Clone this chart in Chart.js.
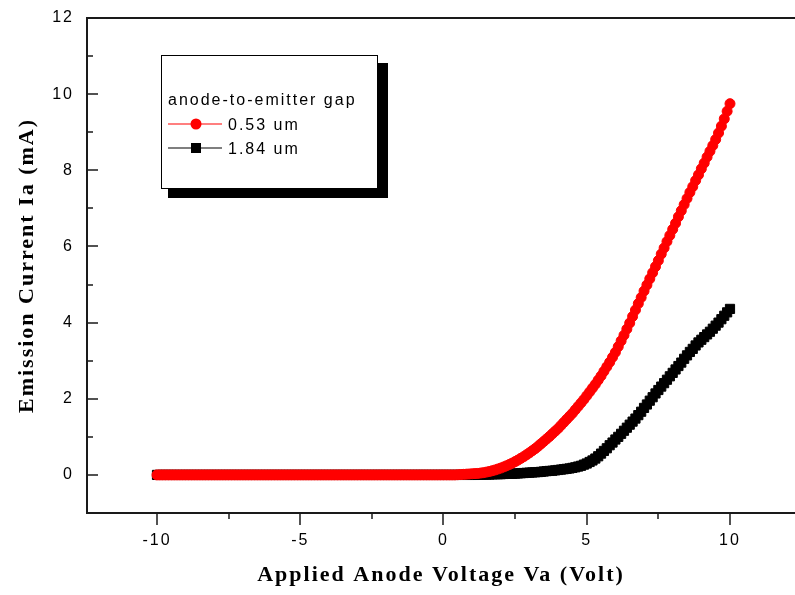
<!DOCTYPE html>
<html><head><meta charset="utf-8">
<script src="https://cdn.jsdelivr.net/npm/chart.js@4/dist/chart.umd.min.js"></script>
<style>html,body{margin:0;padding:0;background:#fff;overflow:hidden}#wrap{width:795px;height:595px;position:relative}</style>
</head><body><div id="wrap"><canvas id="c" width="795" height="595"></canvas></div>
<script>
const voltages = [
  -10,-9.9,-9.8,-9.7,-9.6,-9.5,-9.4,-9.3,-9.2,-9.1,
  -9,-8.9,-8.8,-8.7,-8.6,-8.5,-8.4,-8.3,-8.2,-8.1,
  -8,-7.9,-7.8,-7.7,-7.6,-7.5,-7.4,-7.3,-7.2,-7.1,
  -7,-6.9,-6.8,-6.7,-6.6,-6.5,-6.4,-6.3,-6.2,-6.1,
  -6,-5.9,-5.8,-5.7,-5.6,-5.5,-5.4,-5.3,-5.2,-5.1,
  -5,-4.9,-4.8,-4.7,-4.6,-4.5,-4.4,-4.3,-4.2,-4.1,
  -4,-3.9,-3.8,-3.7,-3.6,-3.5,-3.4,-3.3,-3.2,-3.1,
  -3,-2.9,-2.8,-2.7,-2.6,-2.5,-2.4,-2.3,-2.2,-2.1,
  -2,-1.9,-1.8,-1.7,-1.6,-1.5,-1.4,-1.3,-1.2,-1.1,
  -1,-0.9,-0.8,-0.7,-0.6,-0.5,-0.4,-0.3,-0.2,-0.1,
  0,0.1,0.2,0.3,0.4,0.5,0.6,0.7,0.8,0.9,
  1,1.1,1.2,1.3,1.4,1.5,1.6,1.7,1.8,1.9,
  2,2.1,2.2,2.3,2.4,2.5,2.6,2.7,2.8,2.9,
  3,3.1,3.2,3.3,3.4,3.5,3.6,3.7,3.8,3.9,
  4,4.1,4.2,4.3,4.4,4.5,4.6,4.7,4.8,4.9,
  5,5.1,5.2,5.3,5.4,5.5,5.6,5.7,5.8,5.9,
  6,6.1,6.2,6.3,6.4,6.5,6.6,6.7,6.8,6.9,
  7,7.1,7.2,7.3,7.4,7.5,7.6,7.7,7.8,7.9,
  8,8.1,8.2,8.3,8.4,8.5,8.6,8.7,8.8,8.9,
  9,9.1,9.2,9.3,9.4,9.5,9.6,9.7,9.8,9.9,
  10];
const current053 = [
  0,0,0,0,0,0,0,0,0,0, 0,0,0,0,0,0,0,0,0,0,
  0,0,0,0,0,0,0,0,0,0, 0,0,0,0,0,0,0,0,0,0,
  0,0,0,0,0,0,0,0,0,0, 0,0,0,0,0,0,0,0,0,0,
  0,0,0,0,0,0,0,0,0,0, 0,0,0,0,0,0,0,0,0,0,
  0,0,0,0,0,0,0,0,0,0, 0,0,0,0,0,0,0,0,0,0,
  0,0,0,0,0,0.005,0.01,0.015,0.02,0.025,
  0.03,0.035,0.04,0.05,0.06,0.075,0.09,0.11,0.13,0.155,
  0.18,0.21,0.24,0.275,0.31,0.35,0.39,0.435,0.48,0.53,
  0.58,0.635,0.69,0.75,0.815,0.88,0.945,1.01,1.08,1.15,
  1.22,1.3,1.38,1.46,1.54,1.62,1.71,1.8,1.89,1.98,
  2.08,2.18,2.28,2.38,2.49,2.6,2.72,2.84,2.96,3.09,
  3.22,3.37,3.52,3.67,3.83,3.99,4.16,4.33,4.5,4.66,
  4.83,4.99,5.15,5.31,5.47,5.63,5.8,5.96,6.13,6.29,
  6.45,6.61,6.78,6.94,7.1,7.26,7.42,7.57,7.73,7.88,
  8.04,8.19,8.35,8.5,8.65,8.81,8.98,9.16,9.35,9.55,
  9.75];
const current184 = [
  0,0,0,0,0,0,0,0,0,0, 0,0,0,0,0,0,0,0,0,0,
  0,0,0,0,0,0,0,0,0,0, 0,0,0,0,0,0,0,0,0,0,
  0,0,0,0,0,0,0,0,0,0, 0,0,0,0,0,0,0,0,0,0,
  0,0,0,0,0,0,0,0,0,0, 0,0,0,0,0,0,0,0,0,0,
  0,0,0,0,0,0,0,0,0,0, 0,0,0,0,0,0,0,0,0,0,
  0,0,0,0,0,0,0,0,0,0,
  0,0,0.005,0.005,0.01,0.01,0.01,0.015,0.02,0.02,
  0.02,0.025,0.03,0.03,0.03,0.035,0.04,0.045,0.05,0.055,
  0.06,0.065,0.07,0.075,0.08,0.09,0.1,0.105,0.11,0.12,
  0.13,0.14,0.15,0.16,0.17,0.185,0.2,0.22,0.24,0.27,
  0.3,0.34,0.38,0.43,0.49,0.56,0.63,0.7,0.78,0.85,
  0.93,1,1.08,1.16,1.24,1.32,1.4,1.48,1.57,1.66,
  1.76,1.85,1.95,2.04,2.14,2.23,2.32,2.41,2.5,2.59,
  2.68,2.77,2.86,2.95,3.05,3.14,3.23,3.31,3.4,3.48,
  3.55,3.62,3.69,3.76,3.84,3.92,4,4.09,4.18,4.27,
  4.36];
const seriesLabels = ['0.53 um', '1.84 um'];
const legendTitle = 'anode-to-emitter gap';
const xTitle = 'Applied Anode Voltage Va (Volt)';
const yTitle = 'Emission Current Ia (mA)';
const xMajorTicks = [-10, -5, 0, 5, 10];
const xMinorTicks = [-7.5, -2.5, 2.5, 7.5];
const yMajorTicks = [0, 2, 4, 6, 8, 10, 12];
const yMinorTicks = [1, 3, 5, 7, 9, 11];

const SPACING = '2px';
const spacingPlugin = {
  id: 'spacing',
  beforeUpdate(chart) { chart.ctx.letterSpacing = SPACING; },
  beforeLayout(chart) { chart.ctx.letterSpacing = SPACING; },
  beforeDraw(chart) { chart.ctx.letterSpacing = SPACING; }
};

const framePlugin = {
  id: 'frame',
  beforeDatasetsDraw(chart) {
    const {ctx, chartArea: a, scales: {x, y}} = chart;
    ctx.save();
    ctx.strokeStyle = '#1a1a1a';
    ctx.lineWidth = 2;
    ctx.beginPath();
    ctx.moveTo(chart.width + 5, a.top); ctx.lineTo(a.left, a.top);
    ctx.lineTo(a.left, a.bottom); ctx.lineTo(chart.width + 5, a.bottom);
    ctx.stroke();
    ctx.lineWidth = 1.5;
    ctx.beginPath();
    yMajorTicks.forEach(v => { const p = Math.round(y.getPixelForValue(v)); ctx.moveTo(a.left, p); ctx.lineTo(a.left + 11, p); });
    yMinorTicks.forEach(v => { const p = Math.round(y.getPixelForValue(v)); ctx.moveTo(a.left, p); ctx.lineTo(a.left + 6, p); });
    xMajorTicks.forEach(v => { const p = Math.round(x.getPixelForValue(v)); ctx.moveTo(p, a.bottom); ctx.lineTo(p, a.bottom + 12); });
    xMinorTicks.forEach(v => { const p = Math.round(x.getPixelForValue(v)); ctx.moveTo(p, a.bottom); ctx.lineTo(p, a.bottom + 6); });
    ctx.stroke();
    ctx.restore();
  }
};

const legendPlugin = {
  id: 'boxLegend',
  afterDatasetsDraw(chart) {
    const ctx = chart.ctx;
    ctx.save();
    ctx.letterSpacing = SPACING;
    ctx.fillStyle = '#000';
    ctx.fillRect(168, 63, 220, 135);
    ctx.fillStyle = '#fff';
    ctx.fillRect(161, 55, 217, 134);
    ctx.strokeStyle = '#000';
    ctx.lineWidth = 1;
    ctx.strokeRect(161.5, 55.5, 216, 133);
    ctx.font = '16px "Liberation Sans", Arial, sans-serif';
    ctx.fillStyle = '#000';
    ctx.textBaseline = 'alphabetic';
    ctx.fillText(legendTitle, 168, 105);
    chart.data.datasets.forEach((ds, i) => {
      const cy = 124 + i * 24;
      ctx.strokeStyle = ds.borderColor;
      ctx.lineWidth = 1.2;
      ctx.beginPath(); ctx.moveTo(168, cy); ctx.lineTo(222, cy); ctx.stroke();
      ctx.fillStyle = ds.pointBackgroundColor;
      if (ds.pointStyle === 'rect') { ctx.fillRect(191, cy - 5, 10, 10); }
      else { ctx.beginPath(); ctx.arc(196, cy, 5.5, 0, Math.PI * 2); ctx.fill(); }
      ctx.fillStyle = '#000';
      ctx.fillText(ds.label, 228, cy + 6);
    });
    ctx.restore();
  }
};

const tickFont = {family: '"Liberation Sans", Arial, sans-serif', size: 16};
const titleFont = {family: '"Liberation Serif", "Times New Roman", serif', size: 22, weight: 'bold'};

new Chart(document.getElementById('c'), {
  type: 'scatter',
  data: {
    datasets: [
      {label: seriesLabels[0], data: voltages.map((v, i) => ({x: v, y: current053[i]})),
       showLine: true, borderColor: '#ff0000', borderWidth: 1.5, pointStyle: 'circle',
       pointRadius: 5, pointBorderWidth: 1, pointBackgroundColor: '#ff0000', pointBorderColor: '#ff0000'},
      {label: seriesLabels[1], data: voltages.map((v, i) => ({x: v, y: current184[i]})),
       showLine: true, borderColor: '#000000', borderWidth: 1.5, pointStyle: 'rect',
       pointRadius: 6.5, pointBorderWidth: 1, pointBackgroundColor: '#000000', pointBorderColor: '#000000'}
    ]
  },
  options: {
    responsive: false, animation: false, devicePixelRatio: 1,
    layout: {autoPadding: false, padding: {top: 18, right: 0, left: 0, bottom: 0}},
    plugins: {legend: {display: false}, tooltip: {enabled: false}},
    scales: {
      x: {
        type: 'linear', min: -12.443, max: 12.269,
        afterBuildTicks: s => { s.ticks = xMajorTicks.map(v => ({value: v})); },
        afterFit: s => { s.height = 82; s.paddingLeft = 0; s.paddingRight = 0; },
        grid: {display: false, drawTicks: false}, border: {display: false},
        ticks: {font: tickFont, color: '#000', padding: 18, maxRotation: 0, callback: v => String(v)},
        title: {display: true, text: xTitle, font: titleFont, color: '#000', padding: {top: 0, bottom: 6}}
      },
      y: {
        type: 'linear', min: -1, max: 12,
        afterBuildTicks: s => { s.ticks = yMajorTicks.map(v => ({value: v})); },
        afterFit: s => { s.width = 87; s.paddingTop = 0; s.paddingBottom = 0; },
        grid: {display: false, drawTicks: false}, border: {display: false},
        ticks: {font: tickFont, color: '#000', padding: 13, callback: v => String(v)},
        title: {display: true, text: yTitle, font: titleFont, color: '#000', padding: {top: 14, bottom: 0}}
      }
    }
  },
  plugins: [spacingPlugin, framePlugin, legendPlugin]
});
</script>
</body></html>
